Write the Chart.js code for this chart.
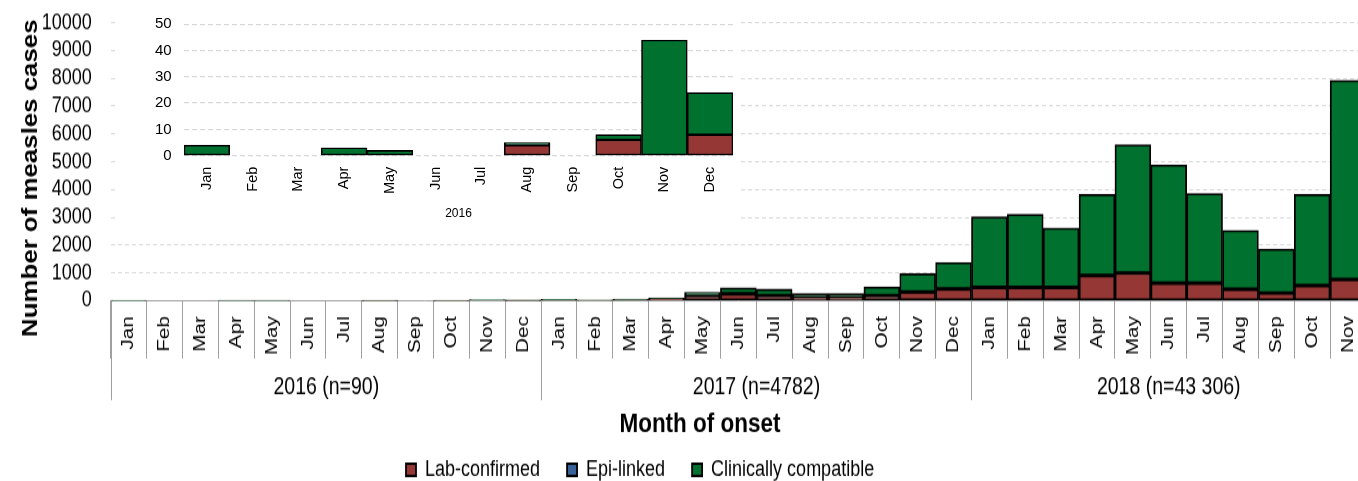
<!DOCTYPE html>
<html>
<head>
<meta charset="utf-8">
<script src="https://cdn.jsdelivr.net/npm/chart.js@4.4.1/dist/chart.umd.min.js"></script>
<style>
html,body{margin:0;padding:0;background:#fff;overflow:hidden;width:1358px;height:481px;}
#wrap{position:relative;width:1358px;height:481px;overflow:hidden;background:#fff;}
#main{position:absolute;left:0;top:0;}
#inset{position:absolute;left:118px;top:8px;background:#fff;}
</style>
</head>
<body>
<div id="wrap">
<canvas id="main" width="1370" height="404" style="width:1370px;height:492.88px;"></canvas>
<canvas id="inset" width="622" height="224" style="width:622px;height:224px;"></canvas>
</div>
<script>
// ---------------- data ----------------
const categories = [
  'Jan','Feb','Mar','Apr','May','Jun','Jul','Aug','Sep','Oct','Nov','Dec',
  'Jan','Feb','Mar','Apr','May','Jun','Jul','Aug','Sep','Oct','Nov','Dec',
  'Jan','Feb','Mar','Apr','May','Jun','Jul','Aug','Sep','Oct','Nov'
];
const yearLabels = ['2016 (n=90)', '2017 (n=4782)', '2018 (n=43 306)'];
const yearFirstIndex = [0, 12, 24];
const yearLastIndex = [11, 23, 34];

const lab2016 = [0, 0, 0, 0, 0, 0, 0, 4, 0, 6, 0, 8];
const lab2017 = [25, 10, 25, 80, 190, 250, 190, 120, 120, 190, 320, 425];
const lab2018 = [480, 480, 480, 910, 1000, 640, 640, 420, 280, 550, 770];

const epi2016 = [0, 0, 0, 0, 0, 0, 0, 0, 0, 0, 0, 0];
const epi2017 = [0, 0, 0, 0, 0, 0, 0, 0, 0, 0, 0, 0];
const epi2018 = [0, 0, 0, 0, 0, 0, 0, 0, 0, 0, 0];

const clin2016 = [4, 0, 0, 3, 2, 0, 0, 1, 0, 2, 44, 16];
const clin2017 = [25, 15, 35, 30, 110, 215, 230, 135, 135, 310, 660, 955];
const clin2018 = [2540, 2630, 2140, 2920, 4610, 4250, 3220, 2110, 1580, 3280, 7160];

const insetCategories = ['Jan','Feb','Mar','Apr','May','Jun','Jul','Aug','Sep','Oct','Nov','Dec'];
const insetYear = '2016';

const mainTicks = [0, 1000, 2000, 3000, 4000, 5000, 6000, 7000, 8000, 9000, 10000];
const insetTicks = [0, 10, 20, 30, 40, 50];

const seriesNames = ['Lab-confirmed', 'Epi-linked', 'Clinically compatible'];
const yTitle = 'Number of measles cases';
const xTitle = 'Month of onset';

// ---------------- style ----------------
const RED = '#953735', BLUE = '#386298', GREEN = '#00712e';
const FONT = "'Liberation Sans', Arial, sans-serif";
Chart.defaults.font.family = FONT;
Chart.defaults.color = '#000';

const labAll = lab2016.concat(lab2017, lab2018);
const epiAll = epi2016.concat(epi2017, epi2018);
const clinAll = clin2016.concat(clin2017, clin2018);

function ds(label, data, color, bw) {
  return {
    label, data, backgroundColor: color, borderColor: '#000', borderWidth: bw,
    borderSkipped: false, barPercentage: 1, categoryPercentage: 1
  };
}

const AXIS_GRAY = '#a0a0a0';

const decor = {
  id: 'decor',
  afterLayout(chart) {
    const lg = chart.legend;
    if (!lg || !lg.lineWidths) return;
    const pad = lg.options.labels.padding;
    const start = (lg.left + pad + lg.right - lg.lineWidths[0]) / 2;
    const dx = 406 - start;
    lg.left += dx; lg.right += dx;
  },
  afterDraw(chart) {
    const ctx = chart.ctx, xs = chart.scales.x;
    const axisY = xs.top;
    ctx.save();
    ctx.strokeStyle = AXIS_GRAY; ctx.lineWidth = 1;
    ctx.fillStyle = '#000';
    ctx.font = '19.5px ' + FONT;
    ctx.textAlign = 'center'; ctx.textBaseline = 'middle';
    yearLabels.forEach((lbl, i) => {
      const x0 = Math.round(xs.getPixelForValue(yearFirstIndex[i] - 0.5)) + 0.5;
      const x1 = xs.getPixelForValue(yearLastIndex[i] + 0.5);
      ctx.beginPath(); ctx.moveTo(x0, axisY); ctx.lineTo(x0, 327.9); ctx.stroke();
      ctx.fillText(lbl, (x0 + x1) / 2, 318);
    });
    ctx.font = 'bold 22.5px ' + FONT;
    ctx.fillText(xTitle, 700, 347.5);
    ctx.translate(37, 146);
    ctx.rotate(-Math.PI / 2);
    ctx.font = 'bold 21.2px ' + FONT;
    ctx.textBaseline = 'alphabetic';
    ctx.fillText(yTitle, 0, 0);
    ctx.restore();
  }
};

new Chart(document.getElementById('main'), {
  type: 'bar',
  data: {
    labels: categories,
    datasets: [
      ds(seriesNames[0], labAll, RED, 1.8),
      ds(seriesNames[1], epiAll, BLUE, 1.8),
      ds(seriesNames[2], clinAll, GREEN, 1.8)
    ]
  },
  options: {
    responsive: false, animation: false, devicePixelRatio: 1,
    layout: { padding: { top: 18.6, right: 4, left: 0, bottom: 0 } },
    scales: {
      x: {
        stacked: true, offset: true,
        grid: { display: true, drawOnChartArea: false, drawTicks: true, tickLength: 47.4,
                color: AXIS_GRAY, tickColor: AXIS_GRAY, tickWidth: 1, offset: true },
        border: { display: true, color: AXIS_GRAY, width: 1 },
        ticks: { autoSkip: false, minRotation: 90, maxRotation: 90, padding: -34.9,
                 font: { size: 17 }, color: '#000' },
        afterFit(s) { s.height = 102.5; s.paddingLeft = 0; s.paddingRight = 0; }
      },
      y: {
        stacked: true, min: 0, max: 10000,
        afterBuildTicks(s) { s.ticks = mainTicks.map(v => ({ value: v })); },
        ticks: { autoSkip: false, padding: 19, font: { size: 18 }, color: '#000',
                 callback: v => String(v) },
        grid: { color: '#d9d9d9', drawTicks: false, lineWidth: 1, borderDash: [4, 3] },
        border: { display: false, dash: [4, 3] },
        afterFit(s) { s.width = 110.7; s.paddingTop = 0; s.paddingBottom = 0; }
      }
    },
    plugins: {
      legend: { position: 'bottom',
        labels: { boxWidth: 10, boxHeight: 10, padding: 27, font: { size: 18 }, color: '#000' } },
      tooltip: { enabled: false }
    }
  },
  plugins: [decor]
});

new Chart(document.getElementById('inset'), {
  type: 'bar',
  data: {
    labels: insetCategories,
    datasets: [
      ds(seriesNames[0], lab2016, RED, 1.6),
      ds(seriesNames[1], epi2016, BLUE, 1.6),
      ds(seriesNames[2], clin2016, GREEN, 1.6)
    ]
  },
  options: {
    responsive: false, animation: false, devicePixelRatio: 1,
    layout: { padding: { top: 16.3, right: 7, left: 0, bottom: 0 } },
    scales: {
      x: {
        stacked: true,
        grid: { display: false, drawTicks: false },
        border: { display: false },
        ticks: { autoSkip: false, minRotation: 90, maxRotation: 90, padding: 11,
                 font: { size: 14.5 }, color: '#000' },
        title: { display: true, text: insetYear, font: { size: 12 }, color: '#000',
                 padding: { top: 0, bottom: 10.8 } },
        afterFit(s) { s.height = 76.3; s.paddingLeft = 0; s.paddingRight = 0; }
      },
      y: {
        stacked: true, min: 0, max: 50,
        afterBuildTicks(s) { s.ticks = insetTicks.map(v => ({ value: v })); },
        ticks: { autoSkip: false, padding: 12.3, font: { size: 15 }, color: '#000',
                 callback: v => String(v) },
        grid: { color: '#d9d9d9', drawTicks: false, lineWidth: 1.3, borderDash: [5, 3] },
        border: { display: false, dash: [5, 3] },
        afterFit(s) { s.width = 66; s.paddingTop = 0; s.paddingBottom = 0; }
      }
    },
    plugins: { legend: { display: false }, tooltip: { enabled: false } }
  }
});
</script>
</body>
</html>
